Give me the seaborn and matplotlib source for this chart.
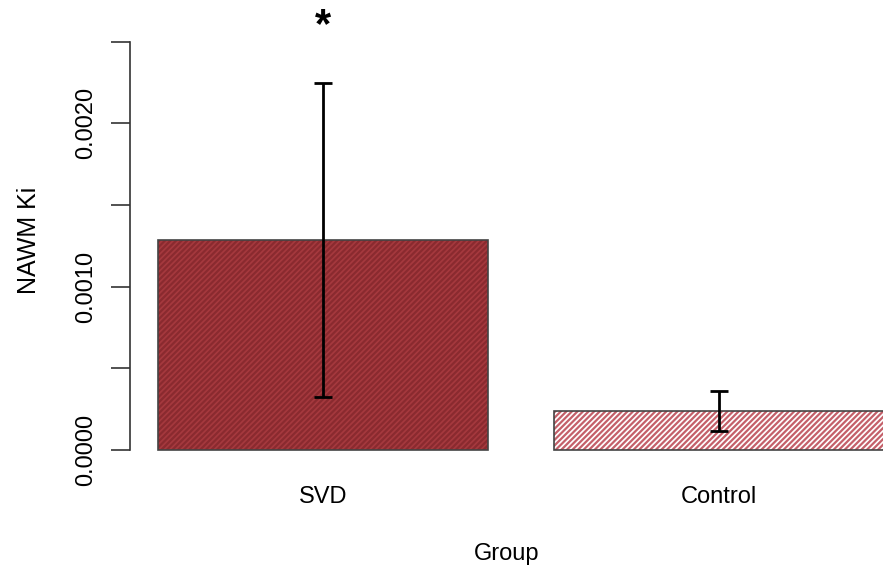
import matplotlib
matplotlib.use("Agg")
import matplotlib.pyplot as plt
import seaborn as sns
import pandas as pd

# Datos
grupos = ["SVD", "Control"]
media_ki = [0.001285, 0.000239]
error_ki = [0.00096, 0.000122]
significancia = ["*", ""]

color_relleno = ["#a5393e", "#ffffff"]
color_trama = ["#8a2a2f", "#c4606a"]

df = pd.DataFrame({"Group": grupos, "Ki": media_ki})

sns.set_style("white")
plt.rcParams["font.family"] = ["Liberation Sans", "DejaVu Sans"]
plt.rcParams["hatch.linewidth"] = 1.6
plt.rcParams["text.color"] = "black"
plt.rcParams["axes.labelcolor"] = "black"
plt.rcParams["xtick.color"] = "black"
plt.rcParams["ytick.color"] = "black"

fig = plt.figure(figsize=(8.83, 5.70), dpi=100)
ax = fig.add_axes([130 / 883, 100 / 570, 753 / 883, 460 / 570])

# Barras con trama
sns.barplot(data=df, x="Group", y="Ki", order=grupos, width=0.833,
            errorbar=None, ax=ax, linewidth=0)
for barra, fc, hc in zip(ax.patches, color_relleno, color_trama):
    barra.set_facecolor(fc)
    barra.set_edgecolor(hc)
    barra.set_hatch("//////")
    barra.set_linewidth(0)

# Contorno de las barras
sns.barplot(data=df, x="Group", y="Ki", order=grupos, width=0.833,
            errorbar=None, ax=ax, fill=False, color="#444444", linewidth=1.2)

# Barras de error
ax.errorbar(x=range(len(grupos)), y=media_ki, yerr=error_ki, fmt="none",
            ecolor="black", elinewidth=2, capsize=6.5, capthick=2)

for i, s in enumerate(significancia):
    if s:
        ax.text(i, media_ki[i] + error_ki[i] + 0.00035, s, ha="center",
                va="center", fontsize=30, fontweight="bold")

ax.set_xlim(-0.487, 1.414)
ax.set_ylim(-0.000122, 0.002693)
ax.set_yticks([0, 0.0005, 0.001, 0.0015, 0.002, 0.0025])
ax.set_yticklabels(["0.0000", "", "0.0010", "", "0.0020", ""],
                   rotation=90, va="center", fontsize=17)
ax.tick_params(axis="y", left=True, length=14, width=1.2, color="#333333", pad=10)
ax.tick_params(axis="x", bottom=False, labelsize=17, pad=8)

for lado in ["top", "right", "bottom"]:
    ax.spines[lado].set_visible(False)
ax.spines["left"].set_bounds(0, 0.0025)
ax.spines["left"].set_color("#333333")
ax.spines["left"].set_linewidth(1.2)

ax.set_xlabel("Group", fontsize=17, labelpad=25)
ax.set_ylabel("NAWM Ki", fontsize=18, labelpad=24)

fig.savefig("out.png", dpi=100)
